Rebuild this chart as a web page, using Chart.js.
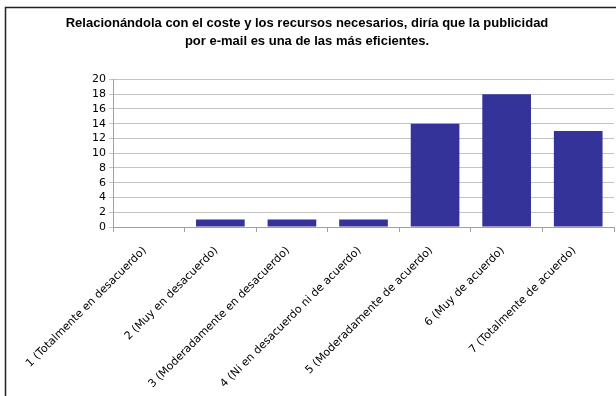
<!DOCTYPE html>
<html>
<head>
<meta charset="utf-8">
<script src="https://cdn.jsdelivr.net/npm/chart.js@4/dist/chart.umd.min.js"></script>
<style>
  html, body { margin: 0; padding: 0; background: #fff; }
  #wrap { width: 616px; height: 396px; }
</style>
</head>
<body>
<div id="wrap"><canvas id="chart" width="616" height="396"></canvas></div>
<script>
const titleLines = [
  "Relacionándola con el coste y los recursos necesarios, diría que la publicidad",
  "por e-mail es una de las más eficientes."
];
const categories = [
  "1 (Totalmente en desacuerdo)",
  "2 (Muy en desacuerdo)",
  "3 (Moderadamente en desacuerdo)",
  "4 (Ni en desacuerdo ni de acuerdo)",
  "5 (Moderadamente de acuerdo)",
  "6 (Muy de acuerdo)",
  "7 (Totalmente de acuerdo)"
];
const responses = [0, 1, 1, 1, 14, 18, 13];
const yMax = 20;
const yStep = 2;

// frame lines along the top and left edge
const framePlugin = {
  id: "frame",
  afterDraw(chart) {
    const ctx = chart.ctx;
    ctx.save();
    ctx.strokeStyle = "#222";
    ctx.lineWidth = 1.5;
    ctx.beginPath();
    ctx.moveTo(5.5, 396);
    ctx.lineTo(5.5, 7.5);
    ctx.lineTo(616, 7.5);
    ctx.stroke();
    ctx.restore();
  }
};

new Chart(document.getElementById("chart").getContext("2d"), {
  type: "bar",
  data: {
    labels: categories,
    datasets: [
      {
        data: responses,
        backgroundColor: "#333399",
        borderWidth: 0,
        categoryPercentage: 0.68,
        barPercentage: 1.0,
      },
    ],
  },
  options: {
    responsive: false,
    animation: false,
    layout: {
      padding: { left: 0, right: 2, top: 0, bottom: 4 },
    },
    plugins: {
      legend: { display: false },
      tooltip: { enabled: false },
      title: {
        display: true,
        text: titleLines,
        color: "#000",
        font: { family: "'Liberation Sans', Arial, sans-serif", size: 13, weight: "bold", lineHeight: 1.4 },
        padding: { top: 14, bottom: 29 },
      },
    },
    scales: {
      x: {
        grid: {
          drawOnChartArea: false,
          drawTicks: true,
          tickLength: 5,
          color: "#a0a0a0",
        },
        border: { color: "#a0a0a0" },
        ticks: {
          color: "#000",
          minRotation: 45,
          maxRotation: 45,
          autoSkip: false,
          padding: 12,
          labelOffset: -4,
          font: { family: "'DejaVu Sans', Verdana, sans-serif", size: 11 },
        },
        afterFit(scale) {
          scale.height = 165;
        },
      },
      y: {
        min: 0,
        max: yMax,
        ticks: {
          stepSize: yStep,
          autoSkip: false,
          color: "#000",
          padding: 3,
          font: { family: "'DejaVu Sans', Verdana, sans-serif", size: 11 },
        },
        grid: {
          color: "#c4c4c4",
          tickLength: 4,
          lineWidth: 1,
        },
        border: { color: "#a0a0a0" },
        afterFit(scale) {
          scale.width = 113;
        },
      },
    },
  },
  plugins: [framePlugin],
});
</script>
</body>
</html>
